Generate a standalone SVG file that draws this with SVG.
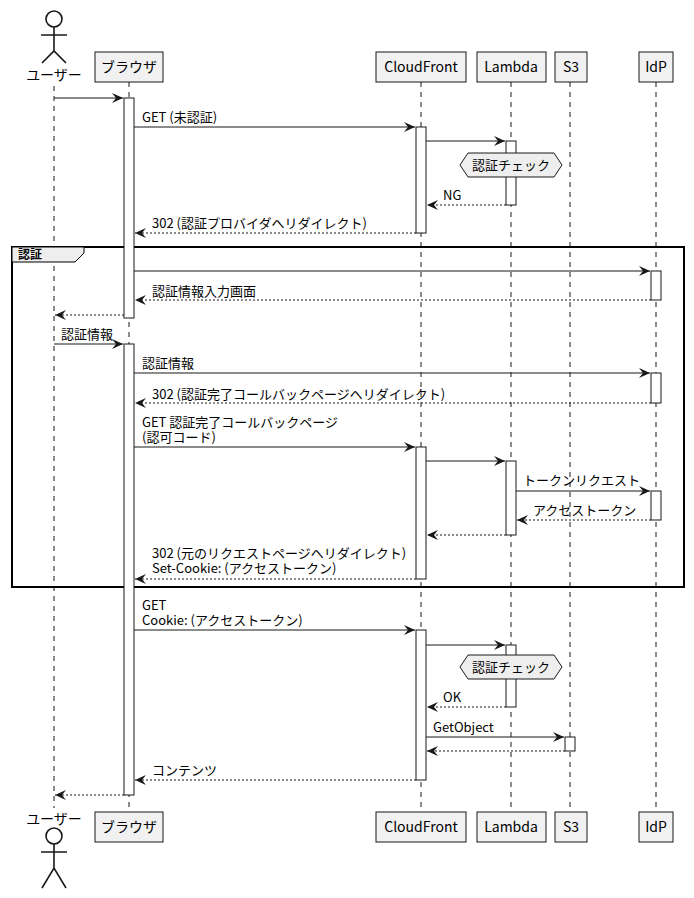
<svg xmlns="http://www.w3.org/2000/svg" width="694" height="898" viewBox="0 0 694 898">
<style>
text{font-family:"Noto Sans CJK JP","Noto Sans",sans-serif;fill:#000}
.m{font-size:13px}
.p{font-size:14px}
.life{stroke:#181818;stroke-width:1;stroke-dasharray:5,5}
.box{fill:#F1F1F1;stroke:#181818;stroke-width:1}
.act{fill:#fff;stroke:#181818;stroke-width:1}
.s{stroke:#181818;stroke-width:1;fill:none;marker-end:url(#ah)}
.d{stroke:#181818;stroke-width:1;fill:none;stroke-dasharray:2,2;marker-end:url(#ah)}
.actor{fill:none;stroke:#181818;stroke-width:1.6}
.hex{fill:#EEEEEE;stroke:#181818;stroke-width:1}
</style>
<defs>
<marker id="ah" viewBox="0 0 12 10" refX="11" refY="5" markerWidth="12" markerHeight="10" markerUnits="userSpaceOnUse" orient="auto">
<polygon points="0,0 11,5 0,10 4,5" fill="#181818"/>
</marker>
</defs>
<rect width="694" height="898" fill="#fff"/>
<g id="lifelines">
<line class="life" x1="54" y1="86" x2="54" y2="808"/>
<line class="life" x1="129" y1="82" x2="129" y2="812"/>
<line class="life" x1="421" y1="82" x2="421" y2="812"/>
<line class="life" x1="511" y1="82" x2="511" y2="812"/>
<line class="life" x1="570" y1="82" x2="570" y2="812"/>
<line class="life" x1="656" y1="82" x2="656" y2="812"/>
</g>
<g id="group-auth">
<rect x="12" y="247" width="672" height="340" fill="none" stroke="#000" stroke-width="2"/>
<polygon points="12,247 84,247 84,253 75,262 12,262" fill="#EEEEEE" stroke="#000" stroke-width="1"/>
<text x="18" y="259" font-size="12" font-weight="bold">認証</text>
</g>
<g id="activations">
<rect class="act" x="124" y="98" width="10" height="220"/>
<rect class="act" x="124" y="344" width="10" height="451"/>
<rect class="act" x="416" y="127" width="10" height="106"/>
<rect class="act" x="416" y="447" width="10" height="132"/>
<rect class="act" x="416" y="630" width="10" height="150"/>
<rect class="act" x="506" y="141" width="10" height="64"/>
<rect class="act" x="506" y="461" width="10" height="74"/>
<rect class="act" x="506" y="645" width="10" height="62"/>
<rect class="act" x="651" y="271" width="10" height="29"/>
<rect class="act" x="651" y="373" width="10" height="30"/>
<rect class="act" x="651" y="491" width="10" height="29"/>
<rect class="act" x="565" y="737" width="10" height="14"/>
</g>
<g id="user">
<circle class="actor" cx="54" cy="19" r="8"/>
<path class="actor" d="M54 27V51M41 35H67M42 63L54 51L66 63"/>
<text class="p" x="54" y="80" text-anchor="middle">ユーザー</text>
<text class="p" x="54" y="824" text-anchor="middle">ユーザー</text>
<circle class="actor" cx="54" cy="836" r="8"/>
<path class="actor" d="M54 844V868M41 852H67M42 888L54 868L66 888"/>
</g>
<g id="browser">
<rect class="box" x="95" y="52" width="68" height="30"/>
<text class="p" x="129" y="72" text-anchor="middle">ブラウザ</text>
<rect class="box" x="95" y="812" width="68" height="30"/>
<text class="p" x="129" y="832" text-anchor="middle">ブラウザ</text>
</g>
<g id="cloudfront">
<rect class="box" x="376" y="52" width="90" height="30"/>
<text class="p" x="421" y="72" text-anchor="middle">CloudFront</text>
<rect class="box" x="376" y="812" width="90" height="30"/>
<text class="p" x="421" y="832" text-anchor="middle">CloudFront</text>
</g>
<g id="lambda">
<rect class="box" x="477" y="52" width="69" height="30"/>
<text class="p" x="511" y="72" text-anchor="middle">Lambda</text>
<rect class="box" x="477" y="812" width="69" height="30"/>
<text class="p" x="511" y="832" text-anchor="middle">Lambda</text>
</g>
<g id="s3">
<rect class="box" x="555" y="52" width="32" height="30"/>
<text class="p" x="571" y="72" text-anchor="middle">S3</text>
<rect class="box" x="555" y="812" width="32" height="30"/>
<text class="p" x="571" y="832" text-anchor="middle">S3</text>
</g>
<g id="idp">
<rect class="box" x="639" y="52" width="34" height="30"/>
<text class="p" x="656" y="72" text-anchor="middle">IdP</text>
<rect class="box" x="639" y="812" width="34" height="30"/>
<text class="p" x="656" y="832" text-anchor="middle">IdP</text>
</g>
<g id="notes">
<polygon class="hex" points="460,165 468,153 554,153 562,165 554,177 468,177"/>
<text class="m" x="511" y="170" text-anchor="middle">認証チェック</text>
<polygon class="hex" points="460,667 468,655 554,655 562,667 554,679 468,679"/>
<text class="m" x="511" y="672" text-anchor="middle">認証チェック</text>
</g>
<g id="connectors">
<line class="s" x1="54" y1="98" x2="123" y2="98"/>
<line class="s" x1="134" y1="127" x2="415" y2="127"/>
<text class="m" x="142" y="122">GET (未認証)</text>
<line class="s" x1="426" y1="141" x2="505" y2="141"/>
<line class="d" x1="506" y1="205" x2="427" y2="205"/>
<text class="m" x="443" y="200">NG</text>
<line class="d" x1="416" y1="233" x2="135" y2="233"/>
<text class="m" x="152" y="228">302 (認証プロバイダへリダイレクト)</text>
<line class="s" x1="134" y1="271" x2="650" y2="271"/>
<line class="d" x1="651" y1="300" x2="135" y2="300"/>
<text class="m" x="152" y="296">認証情報入力画面</text>
<line class="d" x1="124" y1="315" x2="55" y2="315"/>
<line class="s" x1="54" y1="344" x2="123" y2="344"/>
<text class="m" x="61" y="339">認証情報</text>
<line class="s" x1="134" y1="373" x2="650" y2="373"/>
<text class="m" x="142" y="368">認証情報</text>
<line class="d" x1="651" y1="403" x2="135" y2="403"/>
<text class="m" x="152" y="399">302 (認証完了コールバックページへリダイレクト)</text>
<line class="s" x1="134" y1="447" x2="415" y2="447"/>
<text class="m" x="142" y="427">GET 認証完了コールバックページ</text>
<text class="m" x="142" y="442">(認可コード)</text>
<line class="s" x1="426" y1="461" x2="505" y2="461"/>
<line class="s" x1="516" y1="491" x2="650" y2="491"/>
<text class="m" x="523" y="485">トークンリクエスト</text>
<line class="d" x1="651" y1="520" x2="517" y2="520"/>
<text class="m" x="533" y="515">アクセストークン</text>
<line class="d" x1="506" y1="535" x2="427" y2="535"/>
<line class="d" x1="416" y1="579" x2="135" y2="579"/>
<text class="m" x="152" y="558">302 (元のリクエストページへリダイレクト)</text>
<text class="m" x="152" y="573">Set-Cookie: (アクセストークン)</text>
<line class="s" x1="134" y1="630" x2="415" y2="630"/>
<text class="m" x="142" y="610">GET</text>
<text class="m" x="142" y="625">Cookie: (アクセストークン)</text>
<line class="s" x1="426" y1="645" x2="505" y2="645"/>
<line class="d" x1="506" y1="707" x2="427" y2="707"/>
<text class="m" x="443" y="702">OK</text>
<line class="s" x1="426" y1="737" x2="564" y2="737"/>
<text class="m" x="433" y="732">GetObject</text>
<line class="d" x1="565" y1="751" x2="427" y2="751"/>
<line class="d" x1="416" y1="780" x2="135" y2="780"/>
<text class="m" x="152" y="775">コンテンツ</text>
<line class="d" x1="124" y1="795" x2="55" y2="795"/>
</g>
</svg>
